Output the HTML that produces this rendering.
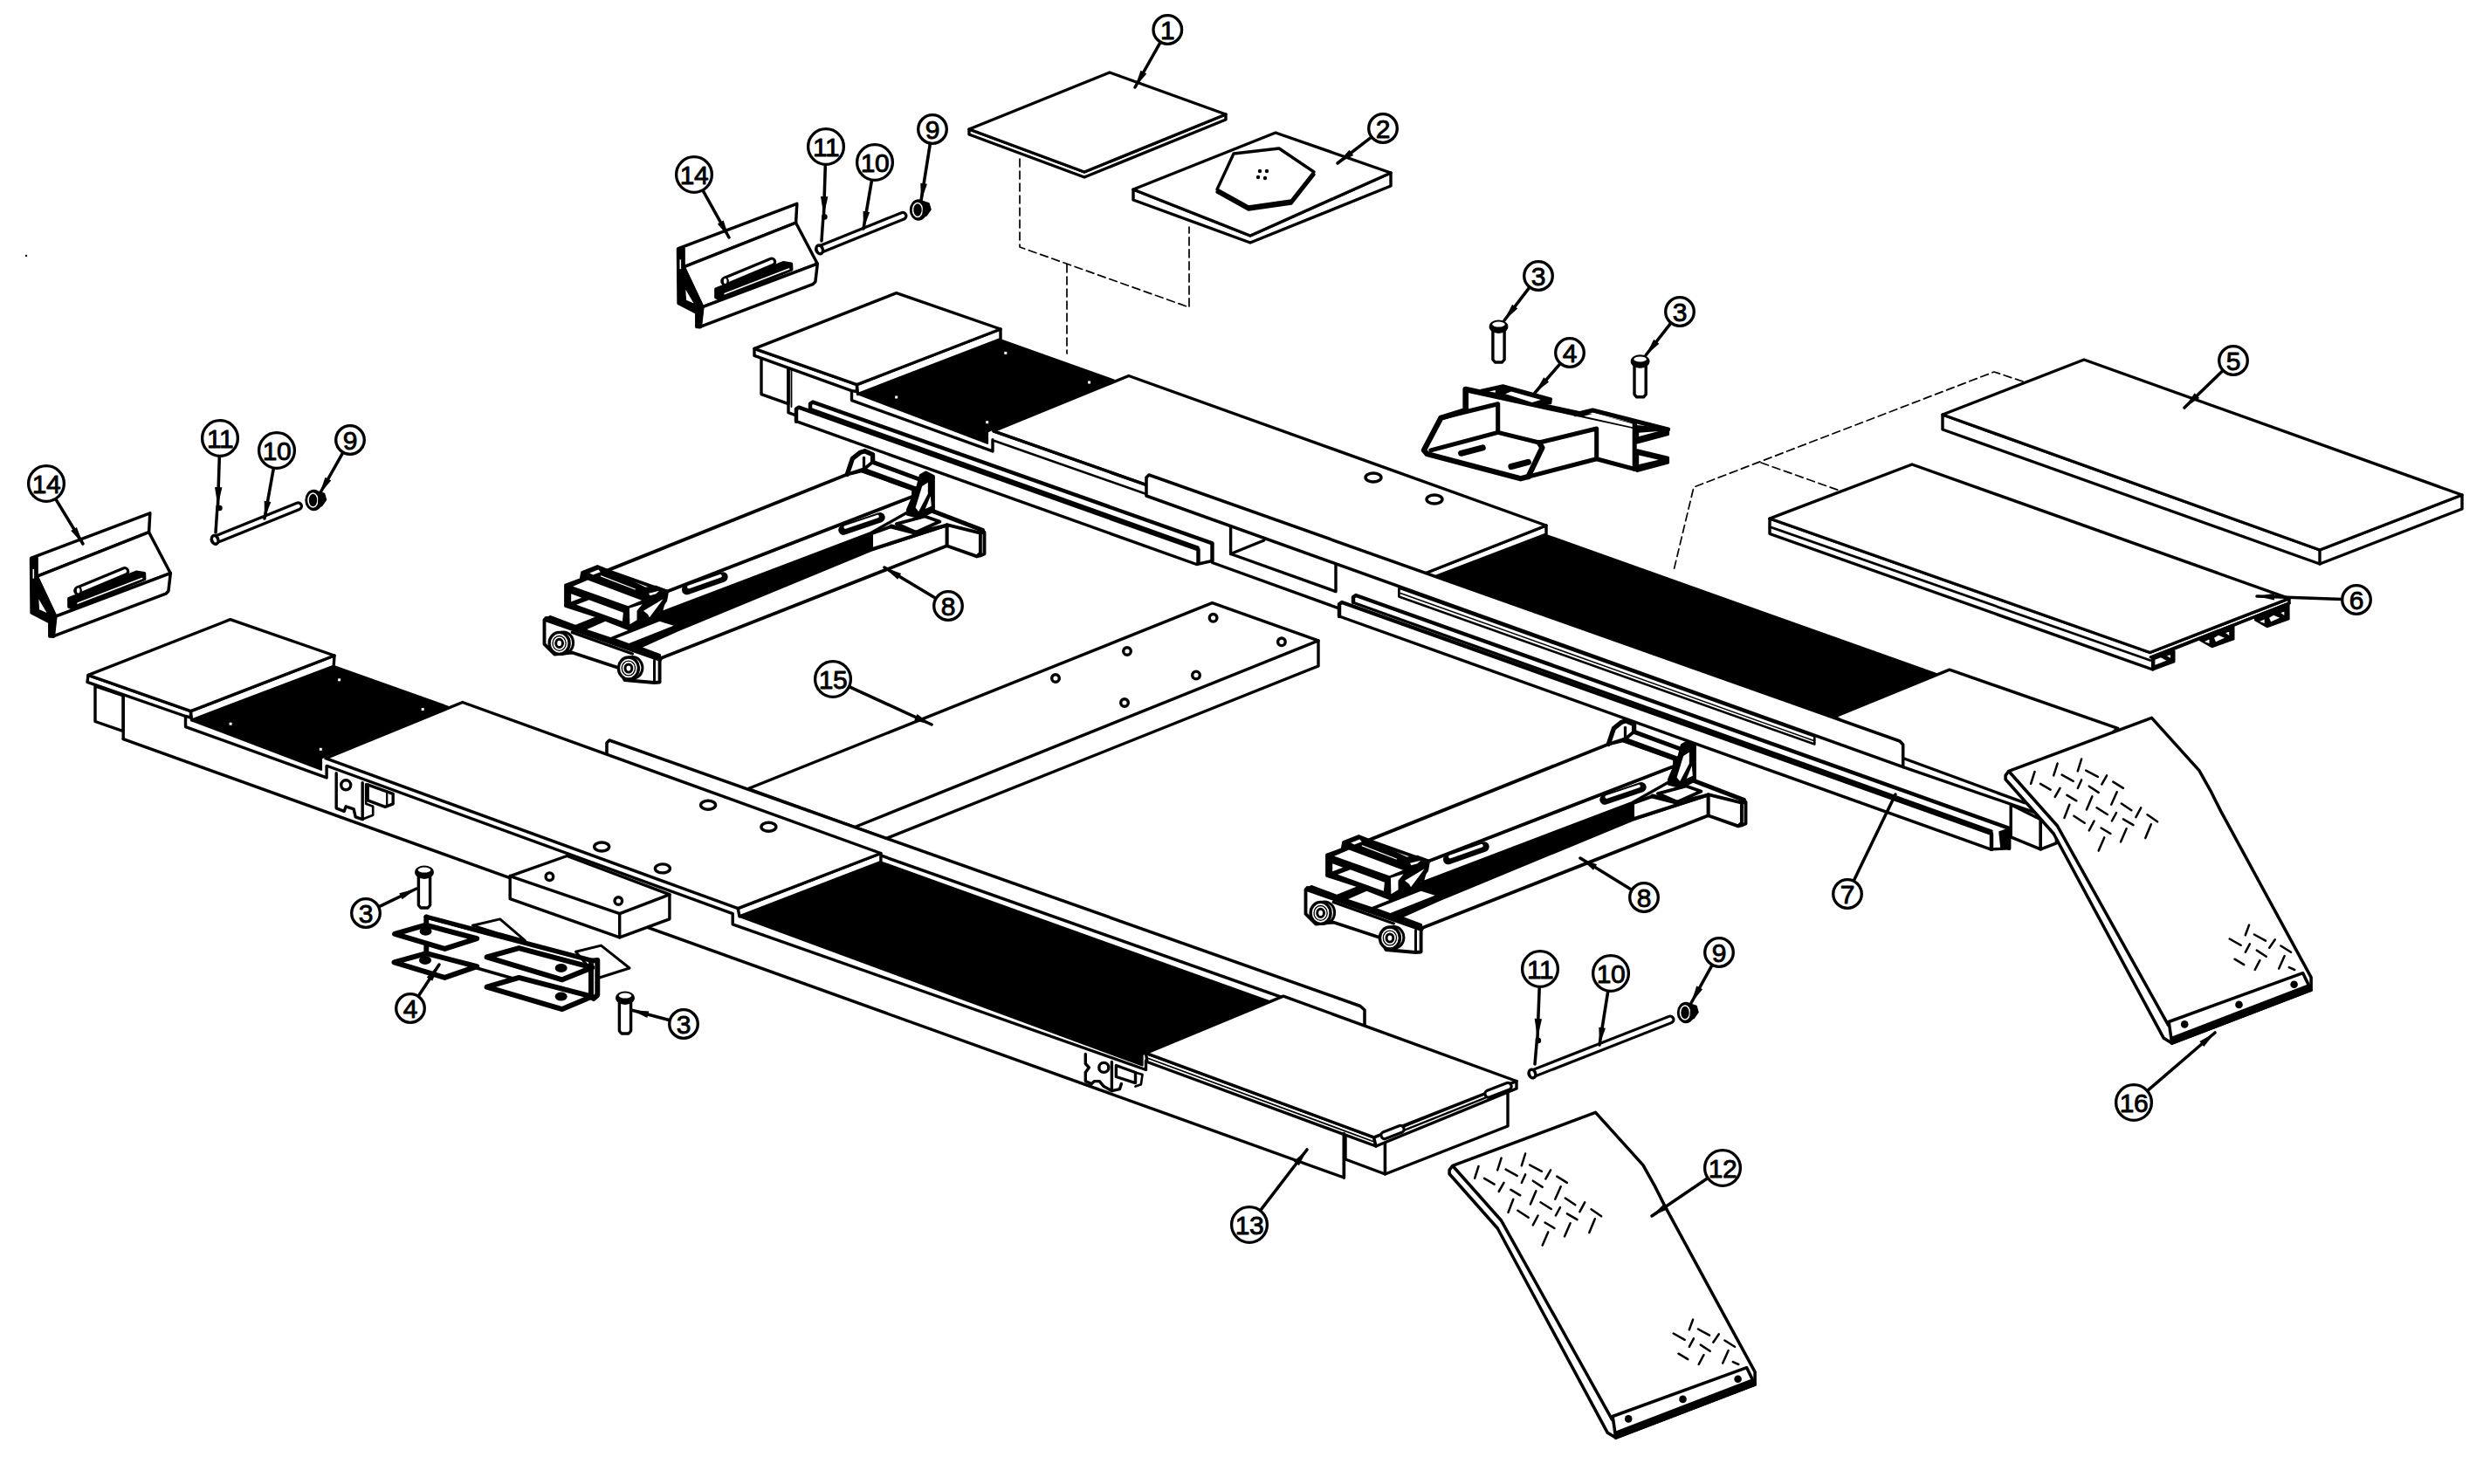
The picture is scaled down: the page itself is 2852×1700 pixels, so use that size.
<!DOCTYPE html>
<html><head><meta charset="utf-8"><title>Runway parts diagram</title>
<style>html,body{margin:0;padding:0;background:#fff}svg{display:block}text{font-family:"Liberation Sans",sans-serif;fill:#000}</style></head>
<body>
<svg xmlns="http://www.w3.org/2000/svg" width="2852" height="1700" viewBox="0 0 2852 1700" stroke-linejoin="round" stroke-linecap="round">
<rect width="2852" height="1700" fill="#fff"/>
<polyline points="1168,182 1168,283 1362,352 1362,260" fill="none" stroke="#000" stroke-width="1.7" stroke-dasharray="9 5"/>
<polyline points="1222,303 1222,410" fill="none" stroke="#000" stroke-width="1.7" stroke-dasharray="9 5"/>
<polyline points="2317,437 2284,426 1940,558 1915,662" fill="none" stroke="#000" stroke-width="1.7" stroke-dasharray="9 5"/>
<polyline points="2017,530 2107,562" fill="none" stroke="#000" stroke-width="1.7" stroke-dasharray="9 5"/>
<polygon points="1110,148 1242,197 1404,131 1404,137 1242,203 1110,154" fill="#fff" stroke="#000" stroke-width="3.4" />
<polygon points="1110,148 1271,83 1404,131 1242,197" fill="#fff" stroke="#000" stroke-width="3.4" />
<polygon points="1298,217 1432,270 1593,198 1593,213 1432,278 1298,229" fill="#fff" stroke="#000" stroke-width="3.4" />
<polygon points="1298,217 1461,152 1593,198 1432,270" fill="#fff" stroke="#000" stroke-width="3.4" />
<polygon points="1413,179 1465,173 1505,200 1479,233 1430,240 1394,220" fill="#000" stroke="#000" stroke-width="3.4" />
<polygon points="1413,176 1465,170 1505,197 1479,230 1430,237 1394,217" fill="#fff" stroke="#000" stroke-width="3.4" />
<circle cx="1443" cy="196" r="2.2" fill="#000" stroke="#000" stroke-width="0"/>
<circle cx="1451" cy="196" r="2.2" fill="#000" stroke="#000" stroke-width="0"/>
<circle cx="1441" cy="203" r="2.2" fill="#000" stroke="#000" stroke-width="0"/>
<circle cx="1449" cy="204" r="2.2" fill="#000" stroke="#000" stroke-width="0"/>
<polygon points="2225,475 2657,630 2820,567 2820,583 2657,646 2225,492" fill="#fff" stroke="#000" stroke-width="3.4" />
<polygon points="2225,475 2387,412 2820,567 2657,630" fill="#fff" stroke="#000" stroke-width="3.4" />
<polyline points="2657,630 2657,646" fill="none" stroke="#000" stroke-width="3.4" />
<polygon points="2463.4,752.8 2490.4,745.8 2490.4,758.1 2465.6,767.4 2463.4,765.8" fill="#000" stroke="#000" stroke-width="2.22" />
<polygon points="2468.4,755.8 2474.9,753.3 2481.4,756.8 2468.4,761.8" fill="#fff" stroke="none" stroke-width="0" />
<polygon points="2481.9,751.2 2485.9,750.2 2485.9,753.8" fill="#fff" stroke="none" stroke-width="0" />
<polygon points="2520,730.7 2558.4,716.4 2558.4,732.2 2533.5,741.1 2520,733.2" fill="#000" stroke="#000" stroke-width="2.22" />
<polygon points="2525,735 2530.5,732.5 2530.5,736.9" fill="#fff" stroke="none" stroke-width="0" />
<polygon points="2536,730.7 2541,727.7 2548,730.7 2538,735.2" fill="#fff" stroke="none" stroke-width="0" />
<polygon points="2549.3,725 2553.2,723.7 2553.2,728.1" fill="#fff" stroke="none" stroke-width="0" />
<polygon points="2583.1,707.7 2621.5,693.4 2621.5,709.2 2596.6,718.1 2583.1,710.2" fill="#000" stroke="#000" stroke-width="2.22" />
<polygon points="2588.1,712 2593.6,709.5 2593.6,713.9" fill="#fff" stroke="none" stroke-width="0" />
<polygon points="2599.1,707.7 2604.1,704.7 2611.1,707.7 2601.1,712.2" fill="#fff" stroke="none" stroke-width="0" />
<polygon points="2612.4,702 2616.3,700.7 2616.3,705.1" fill="#fff" stroke="none" stroke-width="0" />
<polygon points="2027,594 2462.5,747.5 2622,685.6 2622,691 2465.6,752.8 2465.6,767 2027,611.5" fill="#fff" stroke="#000" stroke-width="3.4" />
<polygon points="2027,594 2190,532 2622,685.6 2462.5,747.5" fill="#fff" stroke="#000" stroke-width="3.4" />
<polyline points="2027,603.5 2463,756.5" fill="none" stroke="#000" stroke-width="2.81" />
<polyline points="2463.4,752.8 2622,691" fill="none" stroke="#000" stroke-width="3.4" />
<polygon points="864,399.4 1026.7,335.7 2232.9,767.1 2425.7,834.4 2337,973 2303,959 2303,972 2280,973 1534,706 1370,646.5 912,483 903,472.7 872,451.6" fill="#fff" stroke="none" stroke-width="0" />
<polygon points="872,408 872,451.6 903,462.7 903,420" fill="#fff" stroke="#000" stroke-width="3.4" />
<polyline points="903,420 903,472.7 912,476" fill="none" stroke="#000" stroke-width="3.4" />
<polyline points="906.5,424 906.5,466" fill="none" stroke="#000" stroke-width="1.78" />
<polygon points="983.5,451.6 1146,389.4 1275.7,435.5 1137,491.8 1131,494.5 1131,507.8" fill="#000" stroke="#000" stroke-width="2.22" />
<rect x="1150.3" y="402.9" width="3" height="3" fill="#fff"/>
<rect x="1246.1" y="436.5" width="3" height="3" fill="#fff"/>
<rect x="1025.2" y="453.5" width="3" height="3" fill="#fff"/>
<rect x="1129.2" y="482.2" width="3" height="3" fill="#fff"/>
<polygon points="1771,613 2222,773.5 2101.4,821 1647,661" fill="#000" stroke="#000" stroke-width="2.22" />
<polygon points="864,399.4 981.5,440.6 981.5,448.5 975.5,447.6 864,407.4" fill="#fff" stroke="#000" stroke-width="3.4" />
<polygon points="981.5,440.6 1146,377 1146,388.5 982.5,451.6" fill="#fff" stroke="#000" stroke-width="3.4" />
<polygon points="864,399.4 1026.7,335.7 1146,377 981.5,440.6" fill="#fff" stroke="#000" stroke-width="3.4" />
<polyline points="975.5,447.6 975.5,458.6 1137,516.9 1137,503.8" fill="none" stroke="#000" stroke-width="3.4" />
<polygon points="1633,656.5 1771,602 1771,612 1640,662" fill="#fff" stroke="#000" stroke-width="3.4" />
<polygon points="1292.8,430.5 1771,602 1633,656.5 1640,670.8 1138,493.8" fill="#fff" stroke="#000" stroke-width="3.4" />
<polyline points="1139,505 1313,566" fill="none" stroke="#000" stroke-width="2.66" />
<polyline points="1138,493.8 1313,555.5" fill="none" stroke="#000" stroke-width="3.4" />
<ellipse cx="1573" cy="547" rx="9" ry="5" fill="#fff" stroke="#000" stroke-width="3.4"/>
<ellipse cx="1643" cy="572" rx="9" ry="5" fill="#fff" stroke="#000" stroke-width="3.4"/>
<polygon points="2232.9,767.1 2425.7,834.4 2319,919.7 2179.7,868.5 2101.4,821" fill="#fff" stroke="#000" stroke-width="3.4" />
<polyline points="2179.7,878.6 2331,930.8" fill="none" stroke="#000" stroke-width="3.4" />
<polygon points="1313,547 1316,544 2176,849 2179.7,853 2179.7,878.6 1313,568" fill="#fff" stroke="#000" stroke-width="3.55" />
<polygon points="1602.4,673.5 2078.3,843.6 2078.3,852.6 1602.4,683.5" fill="#fff" stroke="#000" stroke-width="2.66" />
<polyline points="1604,679.5 2078.3,848.8" fill="none" stroke="#000" stroke-width="1.48" />
<polyline points="1409.6,603 1409.6,634.5 1530,677.6 1530,647.5" fill="none" stroke="#000" stroke-width="3.4" />
<polyline points="1409.6,634.5 1447.8,619" fill="none" stroke="#000" stroke-width="3.4" />
<polyline points="1388.5,644.5 1533,696.7" fill="none" stroke="#000" stroke-width="3.4" />
<polyline points="928,470 928,462.6 931,460.6 1388.5,622.4 1388.5,642.5" fill="none" stroke="#000" stroke-width="4.44" />
<polyline points="912,482.7 912,468.7 915,466.7 1372.5,629.5 1372.5,645" fill="none" stroke="#000" stroke-width="4.44" />
<polyline points="912,482.7 1370.5,646.5 1388.5,642.5" fill="none" stroke="#000" stroke-width="3.4" />
<polyline points="930,469 1372,627" fill="none" stroke="#000" stroke-width="3.4" />
<polyline points="1550,690 1550,684 1553,682 2301.2,948.8 2301.2,971.9" fill="none" stroke="#000" stroke-width="4.44" />
<polyline points="1534,706 1534,692 1537,690 2281,954.9 2281,972.9" fill="none" stroke="#000" stroke-width="4.44" />
<polyline points="1534,706 2280,972.9 2301.2,971.9" fill="none" stroke="#000" stroke-width="3.4" />
<polyline points="1552,691 2281,952" fill="none" stroke="#000" stroke-width="3.4" />
<polygon points="2290,953 2301.2,949 2301.2,971 2292,972" fill="#000" stroke="#000" stroke-width="1.48" />
<polygon points="2303.2,921.7 2337.3,938.8 2337.3,972.9 2303.2,958.9" fill="#fff" stroke="#000" stroke-width="3.4" />
<polygon points="2337.3,938.8 2355.4,931 2355.4,965.9 2337.3,972.9" fill="#fff" stroke="#000" stroke-width="3.4" />
<polygon points="857,903.5 1388.5,690.7 1510,733.9 1510,763 1015,960.5" fill="#fff" stroke="#000" stroke-width="3.4" />
<polyline points="979,947.5 1510,733.9" fill="none" stroke="#000" stroke-width="3.4" />
<circle cx="1389.6" cy="707.8" r="4.3" fill="#fff" stroke="#000" stroke-width="3.4"/>
<circle cx="1467.9" cy="735.3" r="4.3" fill="#fff" stroke="#000" stroke-width="3.4"/>
<circle cx="1291" cy="746" r="4.3" fill="#fff" stroke="#000" stroke-width="3.4"/>
<circle cx="1370" cy="773.4" r="4.3" fill="#fff" stroke="#000" stroke-width="3.4"/>
<circle cx="1288" cy="805" r="4.3" fill="#fff" stroke="#000" stroke-width="3.4"/>
<circle cx="1209" cy="777" r="4.3" fill="#fff" stroke="#000" stroke-width="3.4"/>
<polygon points="623.5,710 648,694 648,671 672,652 695,652 970,543.5 985.5,517 999.6,521 1054,544 1060,541 1069.4,545.5 1069.4,585 1127.5,609.5 1127.5,634.4 1119,637.4 1084.5,625.3 757,754.5 757,781 736,773 720,778 640,750 623.5,738" fill="#fff" stroke="none" stroke-width="0" />
<polygon points="1084.5,601.1 1122.9,610.7 1122.9,633.9 1118.9,637.4 1084.5,625.3" fill="#fff" stroke="#000" stroke-width="3.85" />
<polygon points="1122.9,610.7 1127.5,609.7 1127.5,634.4 1122.9,636.4 1118.9,637.4 1122.9,633.9" fill="#fff" stroke="#000" stroke-width="3.85" />
<polyline points="1069.4,585.9 1125.4,607.3" fill="none" stroke="#000" stroke-width="5" />
<polygon points="755.6,754.5 1084.5,625.3 1084.5,601.5 997.6,630 775,722 731.5,741.4" fill="#fff" stroke="#000" stroke-width="3.85" />
<polygon points="998.1,611.2 1020.8,603.1 1049.1,610.2 1084.5,601.6 998.1,629.4" fill="#fff" stroke="#000" stroke-width="3.85" />
<polygon points="1026.9,600.1 1059.3,591.5 1076.4,597.5 1049.1,609.7" fill="#fff" stroke="#000" stroke-width="3.85" />
<polyline points="1020.8,603.1 1049.1,610.2" fill="none" stroke="#000" stroke-width="5.18" />
<polygon points="757,701.5 997.5,610 997.5,629.5 775,722 748.5,708" fill="#000" stroke="#000" stroke-width="2.22" />
<polygon points="763.6,677.7 1046,568.5 1041,586 997.6,610.5 757,702" fill="#fff" stroke="#000" stroke-width="3.26" />
<polygon points="695.3,653.6 970.3,543.5 987,539.5 1046.1,560.6 1046,568.5 763.6,677.7" fill="#fff" stroke="#000" stroke-width="3.85" />
<polyline points="987,539.5 1046.1,560.6" fill="none" stroke="#000" stroke-width="3.26" />
<polygon points="970.3,543.5 976.4,525.3 985.5,518.2 990.5,516.7 999.6,520.7 999.6,529.3 989.5,537.4" fill="#fff" stroke="#000" stroke-width="3.85" />
<polyline points="989.5,524.3 989.5,537.4" fill="none" stroke="#000" stroke-width="3.26" />
<polyline points="970.3,543.5 976.4,525.3 985.5,518.2 990.5,516.7 999.6,520.7 999.6,529.3" fill="none" stroke="#000" stroke-width="5.33" />
<polyline points="999.6,529.3 1054.2,549.5" fill="none" stroke="#000" stroke-width="5" />
<polyline points="989.5,537.4 1050.2,559.6" fill="none" stroke="#000" stroke-width="3.26" />
<polygon points="1039.5,583.9 1039.5,589.4 1054.2,593 1069.4,584.9 1069.4,545.5 1060.3,540.9 1054.2,544.5 1051.2,556.6" fill="#000" stroke="#000" stroke-width="2.96" />
<polygon points="1056.2,557.1 1062.8,552.8 1062.8,565.7 1052.2,585.9 1048.6,581.4" fill="#fff" stroke="none" stroke-width="0" />
<polygon points="1065.8,568.2 1066.8,579.8 1059.8,582.9" fill="#fff" stroke="none" stroke-width="0" />
<polyline points="786.7,675.5 828,661" fill="none" stroke="#000" stroke-width="11.5" />
<polyline points="788.9,672.5 825,659.8" fill="none" stroke="#000" stroke-width="3.6" style="stroke:#fff"/>
<polyline points="966,607 1008,592.8" fill="none" stroke="#000" stroke-width="11.5" />
<polyline points="968.2,604 1005,591.6" fill="none" stroke="#000" stroke-width="3.6" style="stroke:#fff"/>
<polygon points="647.6,670.2 665.2,663.6 666.7,655.6 684.3,648.6 694.3,652.6 739,674.2 751,672.2 764.6,677.2 762.6,688.2 748.5,708.3 738.5,718.4 721.4,720.4 715.4,716.3 647.6,694.3" fill="#000" stroke="#000" stroke-width="2.96" />
<polygon points="656.2,671.7 673.2,664.6 735,687.7 719.4,694.3" fill="#fff" stroke="none" stroke-width="0" />
<polygon points="654.2,680.2 666.2,684.7 654.2,689.2" fill="#fff" stroke="none" stroke-width="0" />
<polygon points="660.2,692.8 674.7,687.2 713.9,701.8 712.9,711.8" fill="#fff" stroke="none" stroke-width="0" />
<polygon points="720.9,696.8 735.5,692.2 729.5,699.8 729.5,710.3 721.4,715.3" fill="#fff" stroke="none" stroke-width="0" />
<polygon points="737,699.8 759.6,686.2 744,707.3 742,703.8" fill="#fff" stroke="none" stroke-width="0" />
<polygon points="743,679.7 755.1,676.7 751.5,680.2 744.5,682.2" fill="#fff" stroke="none" stroke-width="0" />
<polygon points="675.2,656.6 685.3,652.6 687.8,655.3 679.3,658.6" fill="#fff" stroke="none" stroke-width="0" />
<polyline points="688.3,659.9 727.4,675" fill="none" stroke="#000" stroke-width="1.2" style="stroke:#fff"/>
<polygon points="659.2,717.3 685.3,706.8 715.4,716.3 721.4,720.4 738.5,718.4 749.5,709.3 775.6,718.4 731.5,741.4 755.6,750.5 755.6,755 626,710.3 625,709.3 630.1,706.5" fill="#000" stroke="#000" stroke-width="2.96" />
<polygon points="672.2,720.9 693.3,711.8 719.4,721.9 699.3,729.9" fill="#fff" stroke="none" stroke-width="0" />
<polygon points="705.4,731.4 755.6,711.8 771.6,716.8 720.4,736.9" fill="#fff" stroke="none" stroke-width="0" />
<polygon points="623.5,709.8 623.5,737.9 635.1,749.5 655.2,747.5 708.4,765 715.4,779 749.5,782 755.6,781.5 755.6,754.5 626,709.8" fill="#fff" stroke="#000" stroke-width="3.85" />
<polyline points="749.5,756.5 749.5,781.6" fill="none" stroke="#000" stroke-width="2.96" />
<polyline points="626,709.3 755.6,754.5" fill="none" stroke="#000" stroke-width="6.5" />
<polyline points="655.2,724.4 724.4,749" fill="none" stroke="#000" stroke-width="3.26" />
<ellipse cx="645.1" cy="736.4" rx="11.5" ry="12.5" fill="#fff" stroke="#000" stroke-width="3"/>
<ellipse cx="640.6" cy="736.9" rx="11.5" ry="12.5" fill="#fff" stroke="#000" stroke-width="3.4"/>
<ellipse cx="640.6" cy="736.9" rx="7.6" ry="8.4" fill="#fff" stroke="#000" stroke-width="1.3"/>
<ellipse cx="640.6" cy="736.9" rx="3.9" ry="4.6" fill="#fff" stroke="#000" stroke-width="3"/>
<ellipse cx="724.4" cy="765" rx="11.5" ry="12.5" fill="#fff" stroke="#000" stroke-width="3"/>
<ellipse cx="719.9" cy="765.5" rx="11.5" ry="12.5" fill="#fff" stroke="#000" stroke-width="3.4"/>
<ellipse cx="719.9" cy="765.5" rx="7.6" ry="8.4" fill="#fff" stroke="#000" stroke-width="1.3"/>
<ellipse cx="719.9" cy="765.5" rx="3.9" ry="4.6" fill="#fff" stroke="#000" stroke-width="3"/>
<polygon points="1495.5,1019 1520,1003 1520,980 1544,961 1567,961 1842,852.5 1857.5,826 1871.6,830 1926,853 1932,850 1941.4,854.5 1941.4,894 1999.5,918.5 1999.5,943.4 1991,946.4 1956.5,934.3 1629,1063.5 1629,1090 1608,1082 1592,1087 1512,1059 1495.5,1047" fill="#fff" stroke="none" stroke-width="0" />
<polygon points="1956.5,910.1 1994.9,919.7 1994.9,942.9 1990.9,946.4 1956.5,934.3" fill="#fff" stroke="#000" stroke-width="3.85" />
<polygon points="1994.9,919.7 1999.5,918.7 1999.5,943.4 1994.9,945.4 1990.9,946.4 1994.9,942.9" fill="#fff" stroke="#000" stroke-width="3.85" />
<polyline points="1941.4,894.9 1997.4,916.3" fill="none" stroke="#000" stroke-width="5" />
<polygon points="1627.6,1063.5 1956.5,934.3 1956.5,910.5 1869.6,939 1647,1031 1603.5,1050.4" fill="#fff" stroke="#000" stroke-width="3.85" />
<polygon points="1870.1,920.2 1892.8,912.1 1921.1,919.2 1956.5,910.6 1870.1,938.4" fill="#fff" stroke="#000" stroke-width="3.85" />
<polygon points="1898.9,909.1 1931.3,900.5 1948.4,906.5 1921.1,918.7" fill="#fff" stroke="#000" stroke-width="3.85" />
<polyline points="1892.8,912.1 1921.1,919.2" fill="none" stroke="#000" stroke-width="5.18" />
<polygon points="1629,1010.5 1869.5,919 1869.5,938.5 1647,1031 1620.5,1017" fill="#000" stroke="#000" stroke-width="2.22" />
<polygon points="1635.6,986.7 1918,877.5 1913,895 1869.6,919.5 1629,1011" fill="#fff" stroke="#000" stroke-width="3.26" />
<polygon points="1567.3,962.6 1842.3,852.5 1859,848.5 1918.1,869.6 1918,877.5 1635.6,986.7" fill="#fff" stroke="#000" stroke-width="3.85" />
<polyline points="1859,848.5 1918.1,869.6" fill="none" stroke="#000" stroke-width="3.26" />
<polygon points="1842.3,852.5 1848.4,834.3 1857.5,827.2 1862.5,825.7 1871.6,829.7 1871.6,838.3 1861.5,846.4" fill="#fff" stroke="#000" stroke-width="3.85" />
<polyline points="1861.5,833.3 1861.5,846.4" fill="none" stroke="#000" stroke-width="3.26" />
<polyline points="1842.3,852.5 1848.4,834.3 1857.5,827.2 1862.5,825.7 1871.6,829.7 1871.6,838.3" fill="none" stroke="#000" stroke-width="5.33" />
<polyline points="1871.6,838.3 1926.2,858.5" fill="none" stroke="#000" stroke-width="5" />
<polyline points="1861.5,846.4 1922.2,868.6" fill="none" stroke="#000" stroke-width="3.26" />
<polygon points="1911.5,892.9 1911.5,898.4 1926.2,902 1941.4,893.9 1941.4,854.5 1932.3,849.9 1926.2,853.5 1923.2,865.6" fill="#000" stroke="#000" stroke-width="2.96" />
<polygon points="1928.2,866.1 1934.8,861.8 1934.8,874.7 1924.2,894.9 1920.6,890.4" fill="#fff" stroke="none" stroke-width="0" />
<polygon points="1937.8,877.2 1938.8,888.8 1931.8,891.9" fill="#fff" stroke="none" stroke-width="0" />
<polyline points="1658.7,984.5 1700,970" fill="none" stroke="#000" stroke-width="11.5" />
<polyline points="1660.9,981.5 1697,968.8" fill="none" stroke="#000" stroke-width="3.6" style="stroke:#fff"/>
<polyline points="1838,916 1880,901.8" fill="none" stroke="#000" stroke-width="11.5" />
<polyline points="1840.2,913 1877,900.6" fill="none" stroke="#000" stroke-width="3.6" style="stroke:#fff"/>
<polygon points="1519.6,979.2 1537.2,972.6 1538.7,964.6 1556.3,957.6 1566.3,961.6 1611,983.2 1623,981.2 1636.6,986.2 1634.6,997.2 1620.5,1017.3 1610.5,1027.4 1593.4,1029.4 1587.4,1025.3 1519.6,1003.3" fill="#000" stroke="#000" stroke-width="2.96" />
<polygon points="1528.2,980.7 1545.2,973.6 1607,996.7 1591.4,1003.3" fill="#fff" stroke="none" stroke-width="0" />
<polygon points="1526.2,989.2 1538.2,993.7 1526.2,998.2" fill="#fff" stroke="none" stroke-width="0" />
<polygon points="1532.2,1001.8 1546.7,996.2 1585.9,1010.8 1584.9,1020.8" fill="#fff" stroke="none" stroke-width="0" />
<polygon points="1592.9,1005.8 1607.5,1001.2 1601.5,1008.8 1601.5,1019.3 1593.4,1024.3" fill="#fff" stroke="none" stroke-width="0" />
<polygon points="1609,1008.8 1631.6,995.2 1616,1016.3 1614,1012.8" fill="#fff" stroke="none" stroke-width="0" />
<polygon points="1615,988.7 1627.1,985.7 1623.5,989.2 1616.5,991.2" fill="#fff" stroke="none" stroke-width="0" />
<polygon points="1547.2,965.6 1557.3,961.6 1559.8,964.3 1551.3,967.6" fill="#fff" stroke="none" stroke-width="0" />
<polyline points="1560.3,968.9 1599.4,984" fill="none" stroke="#000" stroke-width="1.2" style="stroke:#fff"/>
<polygon points="1531.2,1026.3 1557.3,1015.8 1587.4,1025.3 1593.4,1029.4 1610.5,1027.4 1621.5,1018.3 1647.6,1027.4 1603.5,1050.4 1627.6,1059.5 1627.6,1064 1498,1019.3 1497,1018.3 1502.1,1015.5" fill="#000" stroke="#000" stroke-width="2.96" />
<polygon points="1544.2,1029.9 1565.3,1020.8 1591.4,1030.9 1571.3,1038.9" fill="#fff" stroke="none" stroke-width="0" />
<polygon points="1577.4,1040.4 1627.6,1020.8 1643.6,1025.8 1592.4,1045.9" fill="#fff" stroke="none" stroke-width="0" />
<polygon points="1495.5,1018.8 1495.5,1046.9 1507.1,1058.5 1527.2,1056.5 1580.4,1074 1587.4,1088 1621.5,1091 1627.6,1090.5 1627.6,1063.5 1498,1018.8" fill="#fff" stroke="#000" stroke-width="3.85" />
<polyline points="1621.5,1065.5 1621.5,1090.6" fill="none" stroke="#000" stroke-width="2.96" />
<polyline points="1498,1018.3 1627.6,1063.5" fill="none" stroke="#000" stroke-width="6.5" />
<polyline points="1527.2,1033.4 1596.4,1058" fill="none" stroke="#000" stroke-width="3.26" />
<ellipse cx="1517.1" cy="1045.4" rx="11.5" ry="12.5" fill="#fff" stroke="#000" stroke-width="3"/>
<ellipse cx="1512.6" cy="1045.9" rx="11.5" ry="12.5" fill="#fff" stroke="#000" stroke-width="3.4"/>
<ellipse cx="1512.6" cy="1045.9" rx="7.6" ry="8.4" fill="#fff" stroke="#000" stroke-width="1.3"/>
<ellipse cx="1512.6" cy="1045.9" rx="3.9" ry="4.6" fill="#fff" stroke="#000" stroke-width="3"/>
<ellipse cx="1596.4" cy="1074" rx="11.5" ry="12.5" fill="#fff" stroke="#000" stroke-width="3"/>
<ellipse cx="1591.9" cy="1074.5" rx="11.5" ry="12.5" fill="#fff" stroke="#000" stroke-width="3.4"/>
<ellipse cx="1591.9" cy="1074.5" rx="7.6" ry="8.4" fill="#fff" stroke="#000" stroke-width="1.3"/>
<ellipse cx="1591.9" cy="1074.5" rx="3.9" ry="4.6" fill="#fff" stroke="#000" stroke-width="3"/>
<polygon points="101,773.4 263.7,709.7 1469.9,1141.1 1737,1238.5 1727,1290 1585.6,1345 1539.4,1349 141.2,846.6 109,826.5 109,786" fill="#fff" stroke="none" stroke-width="0" />
<polygon points="695,851 698,848 1558,1152.5 1563,1157 1563,1176 695,869" fill="#fff" stroke="#000" stroke-width="3.55" />
<polyline points="141.2,846.6 1539.4,1349 1539.4,1298" fill="none" stroke="#000" stroke-width="3.4" />
<polygon points="109,786 109,826.5 141.2,837.6 141.2,797" fill="#fff" stroke="#000" stroke-width="3.4" />
<polyline points="141.2,797 141.2,846.6" fill="none" stroke="#000" stroke-width="3.4" />
<polygon points="220.5,825.6 383,763.4 512.7,809.5 374,865.8 368,868.5 368,881.8" fill="#000" stroke="#000" stroke-width="2.22" />
<rect x="387.1" y="777.3" width="3" height="3" fill="#fff"/>
<rect x="482.7" y="811.0" width="3" height="3" fill="#fff"/>
<rect x="262.6" y="827.7" width="3" height="3" fill="#fff"/>
<rect x="365.8" y="856.8" width="3" height="3" fill="#fff"/>
<polygon points="1008.9,987.5 1458,1148.5 1312.5,1206.4 1308.5,1208 1308.5,1220.5 847,1050" fill="#000" stroke="#000" stroke-width="2.22" />
<polygon points="101,773.4 218.5,814.6 218.5,822 212.5,820.5 100,781.4" fill="#fff" stroke="#000" stroke-width="3.4" />
<polygon points="218.5,814.6 383,751 382.2,763.3 219.5,825" fill="#fff" stroke="#000" stroke-width="3.4" />
<polygon points="101,773.4 263.7,709.7 383,751 218.5,814.6" fill="#fff" stroke="#000" stroke-width="3.4" />
<polyline points="212.5,820.5 212.5,832.6 374.1,890.8 374.1,877.5" fill="none" stroke="#000" stroke-width="3.4" />
<polygon points="845.2,1040.7 1008.9,977.5 1008.9,987.5 847,1049.8" fill="#fff" stroke="#000" stroke-width="3.4" />
<polygon points="529.8,804.5 1008.9,977.5 845.2,1040.7 373,868.7" fill="#fff" stroke="#000" stroke-width="3.4" />
<polyline points="375,877.5 839.2,1046.7 839.2,1058.8 1312.5,1225.5 1312.5,1215" fill="none" stroke="#000" stroke-width="3.4" />
<ellipse cx="811.1" cy="922.2" rx="8.5" ry="5" fill="#fff" stroke="#000" stroke-width="3.4"/>
<ellipse cx="880.4" cy="947.3" rx="8.5" ry="5" fill="#fff" stroke="#000" stroke-width="3.4"/>
<ellipse cx="689.2" cy="970" rx="8.5" ry="5" fill="#fff" stroke="#000" stroke-width="3.4"/>
<ellipse cx="758.9" cy="994.9" rx="8.5" ry="5" fill="#fff" stroke="#000" stroke-width="3.4"/>
<polygon points="1541,1296 1541,1328 1586.5,1345 1586.5,1300" fill="#fff" stroke="#000" stroke-width="3.4" />
<polygon points="1586.5,1300 1727,1244 1727,1290 1586.5,1345" fill="#fff" stroke="#000" stroke-width="3.4" />
<polygon points="1312.5,1206.4 1573.6,1302.8 1576,1313 1314,1216.5" fill="#fff" stroke="#000" stroke-width="3.4" />
<polygon points="1573.6,1302.8 1737,1238.5 1737,1247 1576,1313" fill="#fff" stroke="#000" stroke-width="3.4" />
<polygon points="1469.9,1141.1 1737,1238.5 1573.6,1302.8 1312.5,1206.4" fill="#fff" stroke="#000" stroke-width="3.4" />
<polyline points="1314,1212 1574,1308" fill="none" stroke="#000" stroke-width="1.78" />
<polyline points="1539.4,1298.5 1539.4,1349" fill="none" stroke="#000" stroke-width="3.4" />
<polyline points="1596,1297.5 1716,1249.5" fill="none" stroke="#000" stroke-width="6.5" />
<polyline points="1596,1297.5 1716,1249.5" fill="none" stroke="#000" stroke-width="1.8" style="stroke:#fff"/>
<polyline points="1586,1300.5 1604,1293.5" fill="none" stroke="#000" stroke-width="11.5" />
<polyline points="1586,1300.5 1604,1293.5" fill="none" stroke="#000" stroke-width="5" style="stroke:#fff"/>
<polyline points="1705,1253 1727,1244.5" fill="none" stroke="#000" stroke-width="11.5" />
<polyline points="1705,1253 1727,1244.5" fill="none" stroke="#000" stroke-width="5" style="stroke:#fff"/>
<polygon points="584.2,1003.6 649.4,980.5 766.9,1024.7 766.9,1052.8 709.7,1073.9 584.2,1029.7" fill="#fff" stroke="#000" stroke-width="3.4" />
<polyline points="584.2,1003.6 709.7,1046.7 766.9,1024.7" fill="none" stroke="#000" stroke-width="3.4" />
<polyline points="709.7,1046.7 709.7,1073.9" fill="none" stroke="#000" stroke-width="3.4" />
<circle cx="629.4" cy="1004.2" r="4.3" fill="#fff" stroke="#000" stroke-width="3.4"/>
<circle cx="708.3" cy="1032" r="4.3" fill="#fff" stroke="#000" stroke-width="3.4"/>
<polyline points="385.2,885.8 385.2,925.8 394.2,929.3 396.2,923.8 405.2,926.8 407.2,935.8 415.2,938.6" fill="none" stroke="#000" stroke-width="3.4" />
<polyline points="415.2,896.8 415.2,938.6" fill="none" stroke="#000" stroke-width="3.4" />
<polyline points="419.2,898.3 419.2,920.8 427.2,923.8 427.2,933.8 415.2,938.6" fill="none" stroke="#000" stroke-width="2.66" />
<circle cx="396.2" cy="899.3" r="5.5" fill="#fff" stroke="#000" stroke-width="3.4"/>
<polygon points="421.2,898.8 450.2,909.3 450.2,920.8 441.2,924.3 421.2,916.8" fill="#fff" stroke="#000" stroke-width="3.4" />
<polyline points="443.2,907.8 443.2,922.8" fill="none" stroke="#000" stroke-width="2.22" />
<polyline points="1243.3,1207.4 1243.3,1218.5 1247.3,1222.9 1243.3,1228.5 1243.3,1238.6 1250.3,1241.6 1253.3,1238.6 1259.3,1238.6 1264.3,1244.6 1273.4,1249.6" fill="none" stroke="#000" stroke-width="3.4" />
<polyline points="1273.4,1216.5 1273.4,1249.6 1282.4,1247.6 1284.4,1241.6" fill="none" stroke="#000" stroke-width="3.4" />
<circle cx="1264.3" cy="1222.9" r="5.5" fill="#fff" stroke="#000" stroke-width="3.4"/>
<polygon points="1278.4,1220.5 1300.5,1228.5 1300.5,1240.6 1278.4,1233.5" fill="#fff" stroke="#000" stroke-width="3.4" />
<polyline points="1300.5,1228.5 1308.5,1230.9 1306.9,1242.2 1300.5,1244.6" fill="none" stroke="#000" stroke-width="2.66" />
<polygon points="777.1,284.7 912.8,233.4 911.6,255.2 783.1,305.8 777.1,309.4" fill="#fff" stroke="#000" stroke-width="3.48" />
<polygon points="783.1,305.8 911.6,255.2 936.3,302.2 804.8,351.7" fill="#fff" stroke="#000" stroke-width="3.48" />
<polygon points="804.8,351.7 936.3,302.2 933.9,322.7 930.9,325.7 801.2,374.6" fill="#fff" stroke="#000" stroke-width="3.48" />
<polygon points="776.5,285.3 783.1,284.7 783.1,305.8 804.8,351.7 802.4,374.6 797.8,374.6 797.8,358.3 777.1,347.4" fill="#000" stroke="#000" stroke-width="3.48" />
<polygon points="785.3,331.8 794.6,347.4 786.1,343.8" fill="#fff" stroke="none" stroke-width="0" />
<polygon points="778.5,297.4 780.1,297.4 780.1,308.2 778.5,308.2" fill="#fff" stroke="none" stroke-width="0" />
<polygon points="819.9,331.2 897.1,300.8 906.4,302.2 906.7,308.8 824.7,342.6 819.9,340.6" fill="#000" stroke="#000" stroke-width="3.48" />
<polyline points="830.1,336.6 903.7,308" fill="none" stroke="#000" stroke-width="1.6" style="stroke:#fff"/>
<polyline points="830.7,322.1 883.8,300" fill="none" stroke="#000" stroke-width="11" />
<polyline points="830.7,322.1 883.8,300" fill="none" stroke="#000" stroke-width="4.6" style="stroke:#fff"/>
<ellipse cx="830.7" cy="322.1" rx="3" ry="4.2" fill="#fff" stroke="#000" stroke-width="2.37"/>
<polygon points="36.1,639.2 171.8,587.9 170.6,609.7 42.1,660.3 36.1,663.9" fill="#fff" stroke="#000" stroke-width="3.48" />
<polygon points="42.1,660.3 170.6,609.7 195.3,656.7 63.8,706.2" fill="#fff" stroke="#000" stroke-width="3.48" />
<polygon points="63.8,706.2 195.3,656.7 192.9,677.2 189.9,680.2 60.2,729.1" fill="#fff" stroke="#000" stroke-width="3.48" />
<polygon points="35.5,639.8 42.1,639.2 42.1,660.3 63.8,706.2 61.4,729.1 56.8,729.1 56.8,712.8 36.1,701.9" fill="#000" stroke="#000" stroke-width="3.48" />
<polygon points="44.3,686.3 53.6,701.9 45.1,698.3" fill="#fff" stroke="none" stroke-width="0" />
<polygon points="37.5,651.9 39.1,651.9 39.1,662.7 37.5,662.7" fill="#fff" stroke="none" stroke-width="0" />
<polygon points="78.9,685.7 156.1,655.3 165.4,656.7 165.7,663.3 83.7,697.1 78.9,695.1" fill="#000" stroke="#000" stroke-width="3.48" />
<polyline points="89.1,691.1 162.7,662.5" fill="none" stroke="#000" stroke-width="1.6" style="stroke:#fff"/>
<polyline points="89.7,676.6 142.8,654.5" fill="none" stroke="#000" stroke-width="11" />
<polyline points="89.7,676.6 142.8,654.5" fill="none" stroke="#000" stroke-width="4.6" style="stroke:#fff"/>
<ellipse cx="89.7" cy="676.6" rx="3" ry="4.2" fill="#fff" stroke="#000" stroke-width="2.37"/>
<polyline points="938.7,285.9 1034,247.3" fill="none" stroke="#000" stroke-width="11" />
<polyline points="938.7,285.9 1034,247.3" fill="none" stroke="#000" stroke-width="4.6" style="stroke:#fff"/>
<ellipse cx="938.7" cy="285.9" rx="3.6" ry="5" fill="#fff" stroke="#000" stroke-width="3.48" transform="rotate(-20 938.7 285.9)"/>
<ellipse cx="1052" cy="240.5" rx="9.5" ry="11.5" fill="#000" stroke="#000" stroke-width="1.48"/>
<ellipse cx="1051" cy="240.5" rx="5.5" ry="8" fill="#000" stroke="#fff" stroke-width="1.6"/>
<polygon points="1058,231 1064,233 1066,240 1061,247 1057,248" fill="#000" stroke="#000" stroke-width="1.48" />
<polyline points="943,247 941,276" fill="none" stroke="#000" stroke-width="3.48" />
<circle cx="944.5" cy="248.5" r="3.2" fill="#000" stroke="#000" stroke-width="0"/>
<polyline points="246.2,618.4 341.5,579.8" fill="none" stroke="#000" stroke-width="11" />
<polyline points="246.2,618.4 341.5,579.8" fill="none" stroke="#000" stroke-width="4.6" style="stroke:#fff"/>
<ellipse cx="246.2" cy="618.4" rx="3.6" ry="5" fill="#fff" stroke="#000" stroke-width="3.48" transform="rotate(-20 246.2 618.4)"/>
<ellipse cx="359.5" cy="573" rx="9.5" ry="11.5" fill="#000" stroke="#000" stroke-width="1.48"/>
<ellipse cx="358.5" cy="573" rx="5.5" ry="8" fill="#000" stroke="#fff" stroke-width="1.6"/>
<polygon points="365.5,563.5 371.5,565.5 373.5,572.5 368.5,579.5 364.5,580.5" fill="#000" stroke="#000" stroke-width="1.48" />
<polyline points="249,580 247,610" fill="none" stroke="#000" stroke-width="3.48" />
<circle cx="251.5" cy="582" r="3.2" fill="#000" stroke="#000" stroke-width="0"/>
<polyline points="1755,1230 1913,1168" fill="none" stroke="#000" stroke-width="11" />
<polyline points="1755,1230 1913,1168" fill="none" stroke="#000" stroke-width="4.6" style="stroke:#fff"/>
<ellipse cx="1755" cy="1230" rx="3.6" ry="5" fill="#fff" stroke="#000" stroke-width="3.48" transform="rotate(-20 1755 1230)"/>
<ellipse cx="1931" cy="1160" rx="9.5" ry="11.5" fill="#000" stroke="#000" stroke-width="1.48"/>
<ellipse cx="1930" cy="1160" rx="5.5" ry="8" fill="#000" stroke="#fff" stroke-width="1.6"/>
<polygon points="1937,1150.5 1943,1152.5 1945,1159.5 1940,1166.5 1936,1167.5" fill="#000" stroke="#000" stroke-width="1.48" />
<polyline points="1760.5,1190 1758,1219" fill="none" stroke="#000" stroke-width="3.48" />
<circle cx="1762" cy="1192" r="3.2" fill="#000" stroke="#000" stroke-width="0"/>
<polygon points="1663.8,1335.3 1827.5,1274.4 1881.9,1334.6 1894.9,1357.8 1906.5,1380.9 2010.1,1571.7 2010.1,1586.2 1850.7,1647.1 1841.3,1641.3 1715.2,1407 1660.1,1344.7 1660.1,1340.4" fill="#fff" stroke="#000" stroke-width="3.55" />
<polyline points="1664.5,1336.3 1719.6,1398.3 1846.4,1626.1" fill="none" stroke="#000" stroke-width="3.55" />
<polygon points="1847.1,1622.5 2000.7,1566.7 2010.1,1586.2 1850.7,1647.1" fill="#fff" stroke="#000" stroke-width="3.55" />
<polygon points="1849.6,1641 2007.5,1580.4 2010.1,1586.2 1850.7,1647.1" fill="#000" stroke="#000" stroke-width="2.22" />
<circle cx="1865.2" cy="1625.4" r="4.3" fill="#000" stroke="#000" stroke-width="0"/>
<circle cx="1927.5" cy="1602.9" r="4.3" fill="#000" stroke="#000" stroke-width="0"/>
<circle cx="1990.6" cy="1579.7" r="4.3" fill="#000" stroke="#000" stroke-width="0"/>
<polyline points="1689.1,1349.8 1693.5,1336" fill="none" stroke="#000" stroke-width="2.52" />
<polyline points="1715.2,1340.4 1719.6,1326.6" fill="none" stroke="#000" stroke-width="2.52" />
<polyline points="1742.8,1335.3 1747.1,1321.5" fill="none" stroke="#000" stroke-width="2.52" />
<polyline points="1742.8,1354.9 1747.1,1345.4" fill="none" stroke="#000" stroke-width="2.52" />
<polyline points="1770.3,1350.5 1776.1,1340.4" fill="none" stroke="#000" stroke-width="2.52" />
<polyline points="1716.7,1365 1722.5,1354.9" fill="none" stroke="#000" stroke-width="2.52" />
<polyline points="1752.9,1379.5 1759.4,1364.3" fill="none" stroke="#000" stroke-width="2.52" />
<polyline points="1781.2,1373.7 1787.7,1359.2" fill="none" stroke="#000" stroke-width="2.52" />
<polyline points="1727.5,1388.9 1733.3,1373.7" fill="none" stroke="#000" stroke-width="2.52" />
<polyline points="1781.9,1392.5 1787,1383.1" fill="none" stroke="#000" stroke-width="2.52" />
<polyline points="1809.4,1388.2 1815.2,1377.3" fill="none" stroke="#000" stroke-width="2.52" />
<polyline points="1755.8,1403.4 1761.6,1392.5" fill="none" stroke="#000" stroke-width="2.52" />
<polyline points="1792,1416.4 1798.6,1401.2" fill="none" stroke="#000" stroke-width="2.52" />
<polyline points="1820.3,1412.1 1826.8,1396.2" fill="none" stroke="#000" stroke-width="2.52" />
<polyline points="1766.7,1426.6 1773.2,1411.4" fill="none" stroke="#000" stroke-width="2.52" />
<polyline points="1700,1349.8 1711.6,1356.6" fill="none" stroke="#000" stroke-width="2.52" />
<polyline points="1724.6,1339.6 1737.7,1346.9" fill="none" stroke="#000" stroke-width="2.52" />
<polyline points="1752.2,1334.6 1765.9,1341.8" fill="none" stroke="#000" stroke-width="2.52" />
<polyline points="1783.3,1347.6 1794.9,1354.9" fill="none" stroke="#000" stroke-width="2.52" />
<polyline points="1730.4,1362.8 1741.3,1369.3" fill="none" stroke="#000" stroke-width="2.52" />
<polyline points="1755.8,1352.7 1766.7,1359.9" fill="none" stroke="#000" stroke-width="2.52" />
<polyline points="1738.4,1386.7 1750.7,1394.7" fill="none" stroke="#000" stroke-width="2.52" />
<polyline points="1764.5,1377.3 1776.8,1385" fill="none" stroke="#000" stroke-width="2.52" />
<polyline points="1792.8,1372.5 1804.3,1380.2" fill="none" stroke="#000" stroke-width="2.52" />
<polyline points="1822.5,1385.3 1834.1,1393.3" fill="none" stroke="#000" stroke-width="2.52" />
<polyline points="1769.6,1400.5 1780.4,1407" fill="none" stroke="#000" stroke-width="2.52" />
<polyline points="1794.9,1390.4 1806.5,1397.2" fill="none" stroke="#000" stroke-width="2.52" />
<polyline points="1934.8,1523.2 1939.1,1511.6" fill="none" stroke="#000" stroke-width="2.52" />
<polyline points="1934.8,1542.8 1939.9,1533.3" fill="none" stroke="#000" stroke-width="2.52" />
<polyline points="1962.3,1537.7 1968.8,1528.3" fill="none" stroke="#000" stroke-width="2.52" />
<polyline points="1945.7,1563 1951.4,1552.2" fill="none" stroke="#000" stroke-width="2.52" />
<polyline points="1973.2,1561.6 1979.7,1547.1" fill="none" stroke="#000" stroke-width="2.52" />
<polyline points="1916.7,1527.5 1929.7,1534.8" fill="none" stroke="#000" stroke-width="2.52" />
<polyline points="1944.9,1522.5 1958,1529.7" fill="none" stroke="#000" stroke-width="2.52" />
<polyline points="1975.4,1535.5 1987,1542.8" fill="none" stroke="#000" stroke-width="2.52" />
<polyline points="1947.8,1540.6 1958.7,1547.8" fill="none" stroke="#000" stroke-width="2.52" />
<polyline points="1922.5,1550.7 1933.3,1557.2" fill="none" stroke="#000" stroke-width="2.52" />
<polyline points="1984.8,1560.1 1991.3,1563" fill="none" stroke="#000" stroke-width="2.52" />
<polygon points="2300.8,883.3 2464.5,822.4 2518.9,882.6 2531.9,905.8 2543.5,928.9 2647.1,1119.7 2647.1,1134.2 2487.7,1195.1 2478.3,1189.3 2352.2,955 2297.1,892.7 2297.1,888.4" fill="#fff" stroke="#000" stroke-width="3.55" />
<polyline points="2301.5,884.3 2356.6,946.3 2483.4,1174.1" fill="none" stroke="#000" stroke-width="3.55" />
<polygon points="2484.1,1170.5 2637.7,1114.7 2647.1,1134.2 2487.7,1195.1" fill="#fff" stroke="#000" stroke-width="3.55" />
<polygon points="2486.6,1189 2644.5,1128.4 2647.1,1134.2 2487.7,1195.1" fill="#000" stroke="#000" stroke-width="2.22" />
<circle cx="2502.2" cy="1173.4" r="4.3" fill="#000" stroke="#000" stroke-width="0"/>
<circle cx="2564.5" cy="1150.9" r="4.3" fill="#000" stroke="#000" stroke-width="0"/>
<circle cx="2627.6" cy="1127.7" r="4.3" fill="#000" stroke="#000" stroke-width="0"/>
<polyline points="2326.1,897.8 2330.5,884" fill="none" stroke="#000" stroke-width="2.52" />
<polyline points="2352.2,888.4 2356.6,874.6" fill="none" stroke="#000" stroke-width="2.52" />
<polyline points="2379.8,883.3 2384.1,869.5" fill="none" stroke="#000" stroke-width="2.52" />
<polyline points="2379.8,902.9 2384.1,893.4" fill="none" stroke="#000" stroke-width="2.52" />
<polyline points="2407.3,898.5 2413.1,888.4" fill="none" stroke="#000" stroke-width="2.52" />
<polyline points="2353.7,913 2359.5,902.9" fill="none" stroke="#000" stroke-width="2.52" />
<polyline points="2389.9,927.5 2396.4,912.3" fill="none" stroke="#000" stroke-width="2.52" />
<polyline points="2418.2,921.7 2424.7,907.2" fill="none" stroke="#000" stroke-width="2.52" />
<polyline points="2364.5,936.9 2370.3,921.7" fill="none" stroke="#000" stroke-width="2.52" />
<polyline points="2418.9,940.5 2424,931.1" fill="none" stroke="#000" stroke-width="2.52" />
<polyline points="2446.4,936.2 2452.2,925.3" fill="none" stroke="#000" stroke-width="2.52" />
<polyline points="2392.8,951.4 2398.6,940.5" fill="none" stroke="#000" stroke-width="2.52" />
<polyline points="2429,964.4 2435.6,949.2" fill="none" stroke="#000" stroke-width="2.52" />
<polyline points="2457.3,960.1 2463.8,944.2" fill="none" stroke="#000" stroke-width="2.52" />
<polyline points="2403.7,974.6 2410.2,959.4" fill="none" stroke="#000" stroke-width="2.52" />
<polyline points="2337,897.8 2348.6,904.6" fill="none" stroke="#000" stroke-width="2.52" />
<polyline points="2361.6,887.6 2374.7,894.9" fill="none" stroke="#000" stroke-width="2.52" />
<polyline points="2389.2,882.6 2402.9,889.8" fill="none" stroke="#000" stroke-width="2.52" />
<polyline points="2420.3,895.6 2431.9,902.9" fill="none" stroke="#000" stroke-width="2.52" />
<polyline points="2367.4,910.8 2378.3,917.3" fill="none" stroke="#000" stroke-width="2.52" />
<polyline points="2392.8,900.7 2403.7,907.9" fill="none" stroke="#000" stroke-width="2.52" />
<polyline points="2375.4,934.7 2387.7,942.7" fill="none" stroke="#000" stroke-width="2.52" />
<polyline points="2401.5,925.3 2413.8,933" fill="none" stroke="#000" stroke-width="2.52" />
<polyline points="2429.8,920.5 2441.3,928.2" fill="none" stroke="#000" stroke-width="2.52" />
<polyline points="2459.5,933.3 2471.1,941.3" fill="none" stroke="#000" stroke-width="2.52" />
<polyline points="2406.6,948.5 2417.4,955" fill="none" stroke="#000" stroke-width="2.52" />
<polyline points="2431.9,938.4 2443.5,945.2" fill="none" stroke="#000" stroke-width="2.52" />
<polyline points="2571.8,1071.2 2576.1,1059.6" fill="none" stroke="#000" stroke-width="2.52" />
<polyline points="2571.8,1090.8 2576.9,1081.3" fill="none" stroke="#000" stroke-width="2.52" />
<polyline points="2599.3,1085.7 2605.8,1076.3" fill="none" stroke="#000" stroke-width="2.52" />
<polyline points="2582.7,1111 2588.4,1100.2" fill="none" stroke="#000" stroke-width="2.52" />
<polyline points="2610.2,1109.6 2616.7,1095.1" fill="none" stroke="#000" stroke-width="2.52" />
<polyline points="2553.7,1075.5 2566.7,1082.8" fill="none" stroke="#000" stroke-width="2.52" />
<polyline points="2581.9,1070.5 2595,1077.7" fill="none" stroke="#000" stroke-width="2.52" />
<polyline points="2612.4,1083.5 2624,1090.8" fill="none" stroke="#000" stroke-width="2.52" />
<polyline points="2584.8,1088.6 2595.7,1095.8" fill="none" stroke="#000" stroke-width="2.52" />
<polyline points="2559.5,1098.7 2570.3,1105.2" fill="none" stroke="#000" stroke-width="2.52" />
<polyline points="2621.8,1108.1 2628.3,1111" fill="none" stroke="#000" stroke-width="2.52" />
<polygon points="1709.9,376 1723.1,376 1723.1,412 1720.5,415 1712.5,415 1709.9,412" fill="#fff" stroke="#000" stroke-width="3.4" />
<ellipse cx="1716.5" cy="374.2" rx="9.2" ry="6" fill="#000" stroke="#000" stroke-width="3.4"/>
<ellipse cx="1716.5" cy="371.6" rx="7.2" ry="3" fill="#fff" stroke="none" stroke-width="0"/>
<polygon points="1872,415.8 1885.2,415.8 1885.2,451.8 1882.6,454.8 1874.6,454.8 1872,451.8" fill="#fff" stroke="#000" stroke-width="3.4" />
<ellipse cx="1878.6" cy="414" rx="9.2" ry="6" fill="#000" stroke="#000" stroke-width="3.4"/>
<ellipse cx="1878.6" cy="411.4" rx="7.2" ry="3" fill="#fff" stroke="none" stroke-width="0"/>
<polygon points="479.4,1001 492.6,1001 492.6,1037 490,1040 482,1040 479.4,1037" fill="#fff" stroke="#000" stroke-width="3.4" />
<ellipse cx="486" cy="999.2" rx="9.2" ry="6" fill="#000" stroke="#000" stroke-width="3.4"/>
<ellipse cx="486" cy="996.6" rx="7.2" ry="3" fill="#fff" stroke="none" stroke-width="0"/>
<polygon points="709.4,1145 722.6,1145 722.6,1181 720,1184 712,1184 709.4,1181" fill="#fff" stroke="#000" stroke-width="3.4" />
<ellipse cx="716" cy="1143.2" rx="9.2" ry="6" fill="#000" stroke="#000" stroke-width="3.4"/>
<ellipse cx="716" cy="1140.6" rx="7.2" ry="3" fill="#fff" stroke="none" stroke-width="0"/>
<polygon points="1678.7,446.1 1696.8,446.8 1721.4,441.7 1776.5,457 1775.8,462 1804.1,475.1 1824.3,470 1910.6,491.7 1910.6,497.5 1875.1,507 1875.1,515.7 1910.6,524.3 1910.6,530.1 1875.1,539.6 1872.2,537.4 1828.7,525.8 1750.4,546.1 1741.7,548.3 1634.5,520 1630.9,515.7 1650.4,478.7 1678.7,470" fill="#fff" stroke="none" stroke-width="0" />
<polyline points="1678.7,470 1678.7,446.1 1872.2,488.1" fill="none" stroke="#000" stroke-width="6.66" />
<polygon points="1696.8,447.2 1721.4,441.7 1776.5,457 1775.8,461.7 1754.8,462.8" fill="#000" stroke="#000" stroke-width="2.96" />
<polygon points="1724.3,451.2 1730.9,448.4 1764.9,458 1754.8,461" fill="#fff" stroke="none" stroke-width="0" />
<polygon points="1705.5,448.4 1712.8,447 1712.8,449.7" fill="#fff" stroke="none" stroke-width="0" />
<polyline points="1804.8,474.8 1824.3,470 1910.6,492" fill="none" stroke="#000" stroke-width="5.03" />
<polygon points="1814.2,476.8 1825.8,473.6 1870,485.5 1870,489.3" fill="#fff" stroke="none" stroke-width="0" />
<polyline points="1872.2,485.2 1872.2,537.4" fill="none" stroke="#000" stroke-width="5" />
<polygon points="1872.2,488.1 1910.6,492 1910.6,497.5 1875.1,507" fill="#000" stroke="#000" stroke-width="2.96" />
<polygon points="1877.2,495.7 1899.7,494.1 1877.2,500" fill="#fff" stroke="none" stroke-width="0" />
<polygon points="1875.1,515.7 1910.6,524.3 1910.6,530.1 1875.1,539.6 1872.2,537.4" fill="#000" stroke="#000" stroke-width="2.96" />
<polygon points="1877.2,521.4 1899.7,526.8 1877.2,531.9" fill="#fff" stroke="none" stroke-width="0" />
<polyline points="1678.7,470 1650.4,478.7 1630.9,515.7 1634.5,520 1741.7,548.3 1750.4,546.1" fill="none" stroke="#000" stroke-width="6.22" />
<polyline points="1650.4,478.7 1715.7,462.8 1715.7,495.4" fill="none" stroke="#000" stroke-width="5.03" />
<polyline points="1638.8,515.9 1715.7,495.4 1762.8,507" fill="none" stroke="#000" stroke-width="5.03" />
<polyline points="1762.8,507 1828.7,491 1828.7,525.8" fill="none" stroke="#000" stroke-width="5.03" />
<polyline points="1762.8,507 1766.4,512.8 1750.4,546.1" fill="none" stroke="#000" stroke-width="6.22" />
<polyline points="1750.4,546.1 1828.7,525.8 1872.2,537.4" fill="none" stroke="#000" stroke-width="5.03" />
<polyline points="1673.6,519.3 1698.3,512.8" fill="none" stroke="#000" stroke-width="7" />
<polyline points="1730.9,534.5 1750.4,529.4" fill="none" stroke="#000" stroke-width="7" />
<polygon points="1735.9,540.3 1744.6,537.7 1742.5,542.5" fill="#fff" stroke="none" stroke-width="0" />
<polygon points="541.3,1060.2 572.7,1052.9 601.6,1077.6 572.7,1069.8" fill="#fff" stroke="#000" stroke-width="2.96" />
<polygon points="659.5,1090.3 688.5,1083.1 721.1,1109 684.9,1120.5" fill="#fff" stroke="#000" stroke-width="2.96" />
<polyline points="488.3,1050.5 680.7,1101.2" fill="none" stroke="#000" stroke-width="5.5" />
<polyline points="488.3,1050.5 488.3,1059" fill="none" stroke="#000" stroke-width="5.92" />
<polyline points="488.3,1084.3 488.3,1092.1" fill="none" stroke="#000" stroke-width="5.92" />
<polyline points="491.9,1054.7 546.2,1069.8" fill="none" stroke="#000" stroke-width="1.6" style="stroke:#fff"/>
<polyline points="546.2,1109 587.2,1120.7" fill="none" stroke="#000" stroke-width="3.55" />
<polygon points="677,1100.6 684.3,1100 684.3,1139.8 680,1144 677,1142.2" fill="#fff" stroke="#000" stroke-width="5.92" />
<polygon points="452.1,1069.8 487.6,1059.6 546.2,1075.2 509.4,1086.9" fill="#fff" stroke="#000" stroke-width="6" />
<ellipse cx="487.6" cy="1066.8" rx="7" ry="5" fill="#000" stroke="#000" stroke-width="0"/>
<polygon points="451.5,1102.4 488.3,1092.1 546.2,1107.2 509.4,1119.9" fill="#fff" stroke="#000" stroke-width="6" />
<ellipse cx="487" cy="1100" rx="7" ry="5" fill="#000" stroke="#000" stroke-width="0"/>
<polygon points="557.6,1096.3 594.4,1086.1 678.2,1108.4 643.9,1122.3" fill="#fff" stroke="#000" stroke-width="6" />
<ellipse cx="642.7" cy="1109" rx="7" ry="5" fill="#000" stroke="#000" stroke-width="0"/>
<polygon points="557.6,1130.7 594.4,1119.9 678.2,1141.6 643.9,1156.1" fill="#fff" stroke="#000" stroke-width="6" />
<ellipse cx="642.7" cy="1141.6" rx="7" ry="5" fill="#000" stroke="#000" stroke-width="0"/>
<polyline points="804.907,217.833 835,272" fill="none" stroke="#000" stroke-width="3.55" />
<polygon points="835,272 821.878,256.411 828.696,252.623" fill="#000"/>
<circle cx="795" cy="200" r="20.4" fill="#fff" stroke="#000" stroke-width="3.33"/>
<text x="795" y="210.65" font-size="30" text-anchor="middle" stroke="#000" stroke-width="0.9" letter-spacing="-0.5">14</text>
<polyline points="63.6069,571.426 95,623" fill="none" stroke="#000" stroke-width="3.55" />
<polygon points="95,623 81.2697,607.944 87.9324,603.888" fill="#000"/>
<circle cx="53" cy="554" r="20.4" fill="#fff" stroke="#000" stroke-width="3.33"/>
<text x="53" y="564.65" font-size="30" text-anchor="middle" stroke="#000" stroke-width="0.9" letter-spacing="-0.5">14</text>
<polyline points="945.355,188.39 943.5,247" fill="none" stroke="#000" stroke-width="3.55" />
<polygon points="943.5,247 939.998,224.878 948.394,225.144" fill="#000"/>
<circle cx="946" cy="168" r="20.4" fill="#fff" stroke="#000" stroke-width="3.33"/>
<text x="946" y="178.65" font-size="30" text-anchor="middle" stroke="#000" stroke-width="0.9" letter-spacing="-0.5">11</text>
<polyline points="998.56,206.108 989,262" fill="none" stroke="#000" stroke-width="3.55" />
<polygon points="989,262 988.528,241.629 996.216,242.944" fill="#000"/>
<circle cx="1002" cy="186" r="20.4" fill="#fff" stroke="#000" stroke-width="3.33"/>
<text x="1002" y="196.65" font-size="30" text-anchor="middle" stroke="#000" stroke-width="0.9" letter-spacing="-0.5">10</text>
<polyline points="1065.45,164.099 1055,230" fill="none" stroke="#000" stroke-width="3.55" />
<polygon points="1055,230 1054.28,209.636 1061.98,210.857" fill="#000"/>
<circle cx="1068" cy="148" r="16.3" fill="#fff" stroke="#000" stroke-width="3.33"/>
<text x="1068" y="158.65" font-size="30" text-anchor="middle" stroke="#000" stroke-width="0.9">9</text>
<polyline points="251.346,522.39 249.5,580" fill="none" stroke="#000" stroke-width="3.55" />
<polygon points="249.5,580 246.007,557.877 254.403,558.146" fill="#000"/>
<circle cx="252" cy="502" r="20.4" fill="#fff" stroke="#000" stroke-width="3.33"/>
<text x="252" y="512.65" font-size="30" text-anchor="middle" stroke="#000" stroke-width="0.9" letter-spacing="-0.5">11</text>
<polyline points="313.396,536.079 303,594" fill="none" stroke="#000" stroke-width="3.55" />
<polygon points="303,594 302.695,573.626 310.372,575.004" fill="#000"/>
<circle cx="317" cy="516" r="20.4" fill="#fff" stroke="#000" stroke-width="3.33"/>
<text x="317" y="526.65" font-size="30" text-anchor="middle" stroke="#000" stroke-width="0.9" letter-spacing="-0.5">10</text>
<polyline points="392.987,518.194 366,566" fill="none" stroke="#000" stroke-width="3.55" />
<polygon points="366,566 372.436,546.666 379.228,550.501" fill="#000"/>
<circle cx="401" cy="504" r="16.3" fill="#fff" stroke="#000" stroke-width="3.33"/>
<text x="401" y="514.65" font-size="30" text-anchor="middle" stroke="#000" stroke-width="0.9">9</text>
<polyline points="1763.23,1130.39 1761,1189" fill="none" stroke="#000" stroke-width="3.55" />
<polygon points="1761,1189 1757.64,1166.86 1766.03,1167.18" fill="#000"/>
<circle cx="1764" cy="1110" r="20.4" fill="#fff" stroke="#000" stroke-width="3.33"/>
<text x="1764" y="1120.65" font-size="30" text-anchor="middle" stroke="#000" stroke-width="0.9" letter-spacing="-0.5">11</text>
<polyline points="1841.81,1135.15 1832,1197" fill="none" stroke="#000" stroke-width="3.55" />
<polygon points="1832,1197 1831.28,1176.64 1838.98,1177.86" fill="#000"/>
<circle cx="1845" cy="1115" r="20.4" fill="#fff" stroke="#000" stroke-width="3.33"/>
<text x="1845" y="1125.65" font-size="30" text-anchor="middle" stroke="#000" stroke-width="0.9" letter-spacing="-0.5">10</text>
<polyline points="1961.13,1105.27 1937,1149" fill="none" stroke="#000" stroke-width="3.55" />
<polygon points="1937,1149 1943.25,1129.6 1950.08,1133.37" fill="#000"/>
<circle cx="1969" cy="1091" r="16.3" fill="#fff" stroke="#000" stroke-width="3.33"/>
<text x="1969" y="1101.65" font-size="30" text-anchor="middle" stroke="#000" stroke-width="0.9">9</text>
<polyline points="1329.28,48.1906 1300,100" fill="none" stroke="#000" stroke-width="3.55" />
<polygon points="1300,100 1306.44,80.6694 1313.24,84.5071" fill="#000"/>
<circle cx="1337.3" cy="34" r="16.3" fill="#fff" stroke="#000" stroke-width="3.33"/>
<text x="1337.3" y="44.65" font-size="30" text-anchor="middle" stroke="#000" stroke-width="0.9">1</text>
<polyline points="1571.08,156.938 1532,187" fill="none" stroke="#000" stroke-width="3.55" />
<polygon points="1532,187 1545.47,171.715 1550.23,177.897" fill="#000"/>
<circle cx="1584" cy="147" r="16.3" fill="#fff" stroke="#000" stroke-width="3.33"/>
<text x="1584" y="157.65" font-size="30" text-anchor="middle" stroke="#000" stroke-width="0.9">2</text>
<polyline points="1752.1,328.948 1723,367" fill="none" stroke="#000" stroke-width="3.55" />
<polygon points="1723,367 1732.05,348.744 1738.25,353.482" fill="#000"/>
<circle cx="1762" cy="316" r="16.3" fill="#fff" stroke="#000" stroke-width="3.33"/>
<text x="1762" y="326.65" font-size="30" text-anchor="middle" stroke="#000" stroke-width="0.9">3</text>
<polyline points="1913.97,369.853 1885,407" fill="none" stroke="#000" stroke-width="3.55" />
<polygon points="1885,407 1894.23,388.831 1900.38,393.629" fill="#000"/>
<circle cx="1924" cy="357" r="16.3" fill="#fff" stroke="#000" stroke-width="3.33"/>
<text x="1924" y="367.65" font-size="30" text-anchor="middle" stroke="#000" stroke-width="0.9">3</text>
<polyline points="1787.3,416.3 1758,450" fill="none" stroke="#000" stroke-width="3.55" />
<polygon points="1758,450 1768.18,432.349 1774.07,437.467" fill="#000"/>
<circle cx="1798" cy="404" r="16.3" fill="#fff" stroke="#000" stroke-width="3.33"/>
<text x="1798" y="414.65" font-size="30" text-anchor="middle" stroke="#000" stroke-width="0.9">4</text>
<polyline points="2546.27,424.314 2502,467" fill="none" stroke="#000" stroke-width="3.55" />
<polygon points="2502,467 2513.69,450.31 2519.1,455.925" fill="#000"/>
<circle cx="2558" cy="413" r="16.3" fill="#fff" stroke="#000" stroke-width="3.33"/>
<text x="2558" y="423.65" font-size="30" text-anchor="middle" stroke="#000" stroke-width="0.9">5</text>
<polyline points="2682.71,686.428 2585,683" fill="none" stroke="#000" stroke-width="3.55" />
<polygon points="2585,683 2605.12,679.804 2604.85,687.599" fill="#000"/>
<circle cx="2699" cy="687" r="16.3" fill="#fff" stroke="#000" stroke-width="3.33"/>
<text x="2699" y="697.65" font-size="30" text-anchor="middle" stroke="#000" stroke-width="0.9">6</text>
<polyline points="2123.08,1009.32 2171,910" fill="none" stroke="#000" stroke-width="3.55" />
<polygon points="2171,910 2171.09,916.708 2165.69,914.1" fill="#000"/>
<circle cx="2116" cy="1024" r="16.3" fill="#fff" stroke="#000" stroke-width="3.33"/>
<text x="2116" y="1034.65" font-size="30" text-anchor="middle" stroke="#000" stroke-width="0.9">7</text>
<polyline points="1072.04,685.586 1013,650" fill="none" stroke="#000" stroke-width="3.55" />
<polygon points="1013,650 1032.14,656.984 1028.12,663.665" fill="#000"/>
<circle cx="1086" cy="694" r="16.3" fill="#fff" stroke="#000" stroke-width="3.33"/>
<text x="1086" y="704.65" font-size="30" text-anchor="middle" stroke="#000" stroke-width="0.9">8</text>
<polyline points="1869.12,1019.45 1810,983" fill="none" stroke="#000" stroke-width="3.55" />
<polygon points="1810,983 1829.07,990.175 1824.98,996.815" fill="#000"/>
<circle cx="1883" cy="1028" r="16.3" fill="#fff" stroke="#000" stroke-width="3.33"/>
<text x="1883" y="1038.65" font-size="30" text-anchor="middle" stroke="#000" stroke-width="0.9">8</text>
<polyline points="972.532,786.528 1067,830" fill="none" stroke="#000" stroke-width="3.55" />
<polygon points="1067,830 1047.2,825.182 1050.46,818.096" fill="#000"/>
<circle cx="954" cy="778" r="20.4" fill="#fff" stroke="#000" stroke-width="3.33"/>
<text x="954" y="788.65" font-size="30" text-anchor="middle" stroke="#000" stroke-width="0.9" letter-spacing="-0.5">15</text>
<polyline points="2459.47,1249.7 2537,1183" fill="none" stroke="#000" stroke-width="3.55" />
<polygon points="2537,1183 2524.38,1199 2519.29,1193.09" fill="#000"/>
<circle cx="2444" cy="1263" r="20.4" fill="#fff" stroke="#000" stroke-width="3.33"/>
<text x="2444" y="1273.65" font-size="30" text-anchor="middle" stroke="#000" stroke-width="0.9" letter-spacing="-0.5">16</text>
<polyline points="1956.12,1349.46 1892,1393" fill="none" stroke="#000" stroke-width="3.55" />
<polygon points="1892,1393 1906.36,1378.54 1910.74,1384.99" fill="#000"/>
<circle cx="1973" cy="1338" r="20.4" fill="#fff" stroke="#000" stroke-width="3.33"/>
<text x="1973" y="1348.65" font-size="30" text-anchor="middle" stroke="#000" stroke-width="0.9" letter-spacing="-0.5">12</text>
<polyline points="1443.42,1386.82 1497,1317" fill="none" stroke="#000" stroke-width="3.55" />
<polygon points="1497,1317 1487.92,1335.24 1481.73,1330.49" fill="#000"/>
<circle cx="1431" cy="1403" r="20.4" fill="#fff" stroke="#000" stroke-width="3.33"/>
<text x="1431" y="1413.65" font-size="30" text-anchor="middle" stroke="#000" stroke-width="0.9" letter-spacing="-0.5">13</text>
<polyline points="433.679,1038.91 477,1018" fill="none" stroke="#000" stroke-width="3.55" />
<polygon points="477,1018 460.684,1030.21 457.293,1023.18" fill="#000"/>
<circle cx="419" cy="1046" r="16.3" fill="#fff" stroke="#000" stroke-width="3.33"/>
<text x="419" y="1056.65" font-size="30" text-anchor="middle" stroke="#000" stroke-width="0.9">3</text>
<polyline points="478.979,1141.4 503,1105" fill="none" stroke="#000" stroke-width="3.55" />
<polygon points="503,1105 495.238,1123.84 488.728,1119.54" fill="#000"/>
<circle cx="470" cy="1155" r="16.3" fill="#fff" stroke="#000" stroke-width="3.33"/>
<text x="470" y="1165.65" font-size="30" text-anchor="middle" stroke="#000" stroke-width="0.9">4</text>
<polyline points="767.25,1168.8 723,1157" fill="none" stroke="#000" stroke-width="3.55" />
<polygon points="723,1157 743.33,1158.38 741.32,1165.92" fill="#000"/>
<circle cx="783" cy="1173" r="16.3" fill="#fff" stroke="#000" stroke-width="3.33"/>
<text x="783" y="1183.65" font-size="30" text-anchor="middle" stroke="#000" stroke-width="0.9">3</text>
<circle cx="30" cy="293" r="1.2" fill="#000"/>
</svg>
</body></html>
